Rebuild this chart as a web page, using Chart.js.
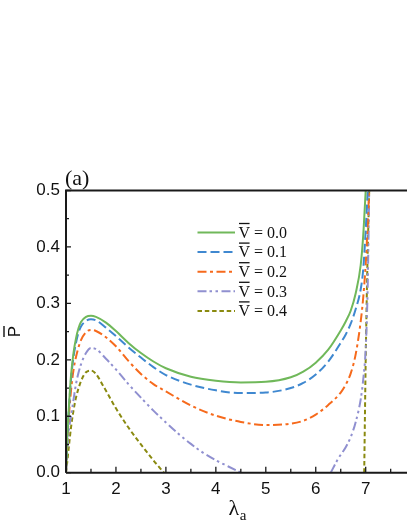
<!DOCTYPE html>
<html>
<head>
<meta charset="utf-8">
<script src="https://cdn.jsdelivr.net/npm/chart.js@4"></script>
<style>
  html, body { margin: 0; padding: 0; background: #fff; overflow: hidden; }
  #wrap { position: relative; width: 407px; height: 527px; }
</style>
</head>
<body>
<div id="wrap"><canvas id="chart" width="407" height="527"></canvas></div>
<script>
// Stretch lambda_a and reduced pressure P for each reduced volume V
const vLabels = ['0.0', '0.1', '0.2', '0.3', '0.4'];

const lam0 = [1.0, 1.02, 1.05, 1.1, 1.15, 1.2, 1.25, 1.3, 1.4, 1.5, 1.6, 1.8, 2.0, 2.25, 2.5, 2.75, 3.0, 3.5, 4.0, 4.5, 5.0, 5.5, 5.75, 6.0, 6.25, 6.5, 6.6, 6.7, 6.8, 6.9, 6.95, 7.0];
const p0   = [0, 0.055, 0.105, 0.172, 0.212, 0.238, 0.256, 0.267, 0.276, 0.278, 0.276, 0.266, 0.251, 0.230, 0.212, 0.197, 0.185, 0.170, 0.163, 0.160, 0.161, 0.169, 0.179, 0.195, 0.218, 0.252, 0.268, 0.287, 0.318, 0.368, 0.42, 0.50];

const lam1 = [1.0, 1.02, 1.05, 1.1, 1.15, 1.2, 1.25, 1.3, 1.4, 1.5, 1.6, 1.8, 2.0, 2.25, 2.5, 2.75, 3.0, 3.5, 4.0, 4.5, 5.0, 5.5, 5.75, 6.0, 6.25, 6.5, 6.6, 6.7, 6.8, 6.9, 6.95, 7.0, 7.04];
const p1   = [0, 0.05, 0.10, 0.165, 0.205, 0.230, 0.248, 0.259, 0.269, 0.272, 0.270, 0.257, 0.242, 0.222, 0.204, 0.187, 0.173, 0.156, 0.146, 0.141, 0.142, 0.150, 0.159, 0.174, 0.197, 0.230, 0.245, 0.264, 0.29, 0.325, 0.36, 0.43, 0.5];

const lam2 = [1.0, 1.02, 1.05, 1.1, 1.15, 1.2, 1.25, 1.3, 1.4, 1.5, 1.6, 1.8, 2.0, 2.25, 2.5, 2.75, 3.0, 3.5, 4.0, 4.5, 5.0, 5.5, 5.75, 6.0, 6.25, 6.5, 6.6, 6.7, 6.8, 6.9, 6.95, 7.0, 7.07];
const p2   = [0, 0.045, 0.09, 0.145, 0.182, 0.205, 0.222, 0.235, 0.249, 0.253, 0.251, 0.240, 0.224, 0.198, 0.175, 0.157, 0.144, 0.119, 0.101, 0.090, 0.0845, 0.087, 0.092, 0.103, 0.120, 0.142, 0.156, 0.176, 0.21, 0.268, 0.31, 0.37, 0.5];

// null splits the two branches
const lam3 = [1.0, 1.02, 1.05, 1.1, 1.15, 1.2, 1.25, 1.3, 1.4, 1.5, 1.6, 1.8, 2.0, 2.25, 2.5, 2.75, 3.0, 3.25, 3.5, 3.75, 4.0, 4.25, 4.5, 5.4, 6.3, 6.45, 6.6, 6.7, 6.8, 6.9, 6.95, 7.0, 7.04, 7.07];
const p3   = [0, 0.035, 0.07, 0.10, 0.129, 0.157, 0.177, 0.192, 0.212, 0.221, 0.219, 0.202, 0.183, 0.157, 0.133, 0.110, 0.089, 0.069, 0.051, 0.035, 0.022, 0.011, 0, null, 0, 0.025, 0.045, 0.063, 0.09, 0.13, 0.165, 0.22, 0.33, 0.5];

const lam4 = [1.0, 1.02, 1.05, 1.1, 1.15, 1.2, 1.3, 1.4, 1.5, 1.6, 1.75, 2.0, 2.25, 2.5, 2.75, 2.96, 5.0, 6.97, 7.0, 7.03, 7.07];
const p4   = [0, 0.015, 0.04, 0.08, 0.11, 0.133, 0.162, 0.178, 0.181, 0.175, 0.153, 0.114, 0.080, 0.050, 0.022, 0, null, 0, 0.2, 0.35, 0.5];

const xTicks = [1, 2, 3, 4, 5, 6, 7];
const yTicks = [0, 0.1, 0.2, 0.3, 0.4, 0.5];

const colors = ['#70b85a', '#3f88d0', '#f66a1c', '#9090d0', '#8a8a10'];
const dashes = [[], [9, 4], [9, 3.5, 3, 3.5], [9, 3, 2.5, 3.5, 2.5, 3.5], [4.5, 2.8]];

const PLOT_LEFT = 66, PLOT_TOP = 190.5, PLOT_BOTTOM = 472.7;

function toPoints(xs, ys) {
    return xs.map((x, i) => ({ x: x, y: ys[i] }));
}

const series = [[lam0, p0], [lam1, p1], [lam2, p2], [lam3, p3], [lam4, p4]];

const datasets = series.map((s, i) => ({
    label: 'V = ' + vLabels[i],
    data: toPoints(s[0], s[1]),
    borderColor: colors[i],
    borderWidth: 2,
    borderDash: dashes[i],
    pointRadius: 0,
    fill: false,
    spanGaps: false,
    cubicInterpolationMode: 'monotone'
}));

// axes drawn with inward ticks, top frame line, legend and titles
const decorations = {
    id: 'decorations',
    afterDraw(chart) {
        const ctx = chart.ctx;
        const xs = chart.scales.x, ys = chart.scales.y;
        const a = chart.chartArea;
        ctx.save();
        ctx.strokeStyle = '#1a1a1a';
        ctx.lineWidth = 2;
        ctx.setLineDash([]);
        ctx.beginPath();
        ctx.moveTo(a.left, a.bottom);
        ctx.lineTo(a.left, a.top);
        ctx.lineTo(chart.width, a.top);
        ctx.moveTo(a.left, a.bottom);
        ctx.lineTo(chart.width, a.bottom);
        ctx.stroke();

        ctx.lineWidth = 1.3;
        ctx.beginPath();
        for (let v = 1; v <= 8; v += 0.5) {
            const px = xs.getPixelForValue(v);
            const len = Number.isInteger(v) ? 6 : 4;
            ctx.moveTo(px, a.bottom);
            ctx.lineTo(px, a.bottom - len);
        }
        for (let k = 0; k <= 10; k++) {
            const py = ys.getPixelForValue(k * 0.05);
            const len = k % 2 === 0 ? 5 : 3;
            ctx.moveTo(a.left, py);
            ctx.lineTo(a.left + len, py);
        }
        ctx.stroke();

        // legend
        const lx0 = 197.5, lx1 = 235, tx = 238.5;
        ctx.font = '16px "Liberation Serif", "Times New Roman", serif';
        ctx.textAlign = 'left';
        ctx.textBaseline = 'alphabetic';
        vLabels.forEach((lab, i) => {
            const y = 232.5 + i * 19.6;
            ctx.strokeStyle = colors[i];
            ctx.lineWidth = 2;
            ctx.setLineDash(dashes[i]);
            ctx.beginPath();
            ctx.moveTo(lx0, y);
            ctx.lineTo(lx1, y);
            ctx.stroke();
            ctx.setLineDash([]);
            ctx.fillStyle = '#111';
            ctx.fillText('V = ' + lab, tx, y + 5.2);
            const vw = ctx.measureText('V').width;
            ctx.strokeStyle = '#111';
            ctx.lineWidth = 1.3;
            ctx.beginPath();
            ctx.moveTo(tx + 0.5, y - 9);
            ctx.lineTo(tx + vw - 0.5, y - 9);
            ctx.stroke();
        });

        // panel label
        ctx.fillStyle = '#111';
        ctx.font = '22px "Liberation Serif", "Times New Roman", serif';
        ctx.fillText('(a)', 65, 185);

        // x title
        ctx.font = '22px "Liberation Serif", "Times New Roman", serif';
        const lw = ctx.measureText('\u03bb').width;
        ctx.fillText('\u03bb', 228.5, 515);
        ctx.font = '15px "Liberation Serif", "Times New Roman", serif';
        ctx.fillText('a', 228.5 + lw + 0.5, 520);

        // y title
        ctx.save();
        ctx.translate(19.5, (a.top + a.bottom) / 2);
        ctx.rotate(-Math.PI / 2);
        ctx.font = '17px "Liberation Sans", Arial, sans-serif';
        ctx.textAlign = 'center';
        ctx.fillText('P', 0, 0);
        ctx.strokeStyle = '#111';
        ctx.lineWidth = 1.4;
        ctx.beginPath();
        ctx.moveTo(-5.5, -15.5);
        ctx.lineTo(5.5, -15.5);
        ctx.stroke();
        ctx.restore();

        ctx.restore();
    }
};

new Chart(document.getElementById('chart'), {
    type: 'line',
    data: { datasets: datasets },
    options: {
        responsive: false,
        animation: false,
        devicePixelRatio: 1,
        layout: { padding: { top: PLOT_TOP, left: 0, right: 0, bottom: 0 } },
        plugins: {
            legend: { display: false },
            tooltip: { enabled: false }
        },
        scales: {
            x: {
                type: 'linear',
                min: 1,
                max: 1 + (407 - PLOT_LEFT) / 49.95,
                afterBuildTicks: s => { s.ticks = xTicks.map(v => ({ value: v })); },
                afterFit: s => { s.height = 527 - PLOT_BOTTOM; },
                grid: { display: false, drawTicks: false },
                border: { display: false },
                ticks: {
                    color: '#111',
                    padding: 6,
                    maxRotation: 0,
                    font: { family: '"Liberation Sans", Arial, sans-serif', size: 17 },
                    callback: v => String(v)
                }
            },
            y: {
                type: 'linear',
                min: 0,
                max: 0.5,
                afterBuildTicks: s => { s.ticks = yTicks.map(v => ({ value: v })); },
                afterFit: s => { s.width = PLOT_LEFT; },
                grid: { display: false, drawTicks: false },
                border: { display: false },
                ticks: {
                    color: '#111',
                    padding: 6,
                    font: { family: '"Liberation Sans", Arial, sans-serif', size: 17 },
                    callback: v => v.toFixed(1)
                }
            }
        }
    },
    plugins: [decorations]
});
</script>
</body>
</html>
